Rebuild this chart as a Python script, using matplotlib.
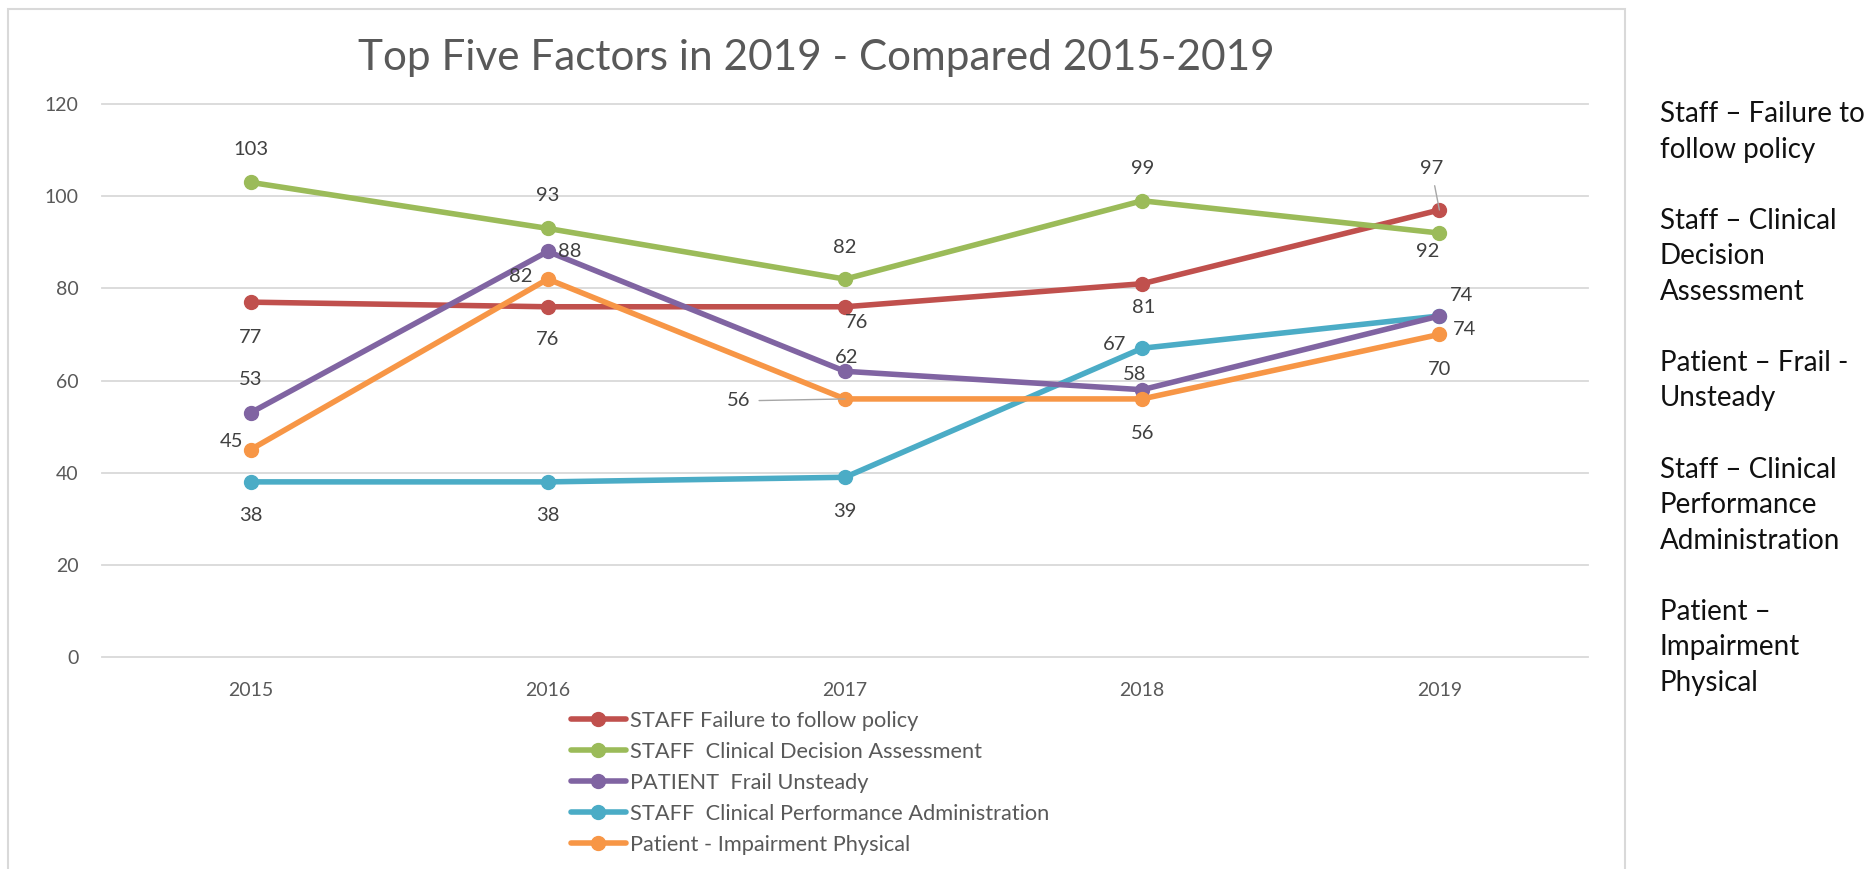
import matplotlib
matplotlib.use("Agg")
import matplotlib.pyplot as plt
from matplotlib.patches import Rectangle

plt.rcParams['font.family'] = ['Lato', 'DejaVu Sans']

years = [2015, 2016, 2017, 2018, 2019]
series_names = [
    "STAFF Failure to follow policy",
    "STAFF  Clinical Decision Assessment",
    "PATIENT  Frail Unsteady",
    "STAFF  Clinical Performance Administration",
    "Patient - Impairment Physical",
]
failure_policy = [77, 76, 76, 81, 97]
clinical_decision = [103, 93, 82, 99, 92]
frail_unsteady = [53, 88, 62, 58, 74]
clinical_performance = [38, 38, 39, 67, 74]
impairment_physical = [45, 82, 56, 56, 70]
series_values = [failure_policy, clinical_decision, frail_unsteady,
                 clinical_performance, impairment_physical]

side_notes = [
    "Staff \u2013 Failure to\nfollow policy",
    "Staff \u2013 Clinical\nDecision\nAssessment",
    "Patient \u2013 Frail -\nUnsteady",
    "Staff \u2013 Clinical\nPerformance\nAdministration",
    "Patient \u2013\nImpairment\nPhysical",
]

colors = ['#C0504D', '#9BBB59', '#8064A2', '#4BACC6', '#F79646']

# label offsets in pixels (dx, dy) for each point, per series
label_offsets = [
    [(0, -35), (0, -33), (12, -16), (1, -24), (-8, 41)],
    [(0, 33), (0, 33), (0, 32), (0, 32), (-12, -18)],
    [(0, 33), (22, 0), (2, 14), (-8, 15), (25, -14)],
    [(0, -34), (0, -34), (0, -34), (-28, 4), (22, 20)],
    [(-19, 8), (-27, 3), (-106, -2), (0, -35), (0, -35)],
]
leaders = {(0, 4), (4, 2)}

W, H = 1873, 869
fig = plt.figure(figsize=(W / 100, H / 100), dpi=100)
fig.patch.set_facecolor('white')

# chart frame
fig.patches.append(Rectangle((8 / W, -0.05), (1625 - 8) / W, 1.05 - 9 / H,
                             transform=fig.transFigure, fill=False,
                             edgecolor='#D9D9D9', lw=1.5))

ax = fig.add_axes([102 / W, 1 - 657 / H, (1588 - 102) / W, (657 - 104) / H])

handles = []
for i, vals in enumerate(series_values):
    h, = ax.plot(years, vals, color=colors[i], lw=4.0, marker='o',
                 markersize=10, solid_capstyle='round', label=series_names[i],
                 zorder=3 + i * 0.1 if i != 2 else 3.35)
    handles.append(h)

for i, vals in enumerate(series_values):
    for j, v in enumerate(vals):
        dx, dy = label_offsets[i][j]
        kw = {}
        if (i, j) in leaders:
            kw['arrowprops'] = dict(arrowstyle='-', color='#A6A6A6', lw=1.0,
                                    shrinkA=4, shrinkB=0)
        ax.annotate(str(v), (years[j], v), xytext=(dx, dy),
                    textcoords='offset pixels', ha='center', va='center',
                    fontsize=14.5, color='#404040', zorder=6, **kw)

ax.set_xlim(2014.5, 2019.5)
ax.set_ylim(0, 120)
ax.set_yticks(range(0, 121, 20))
ax.set_xticks(years)
ax.grid(axis='y', color='#D9D9D9', lw=1.3)
ax.set_axisbelow(True)
for s in ax.spines.values():
    s.set_visible(False)
ax.tick_params(length=0, labelsize=14, labelcolor='#595959')
ax.tick_params(axis='y', pad=17)
ax.tick_params(axis='x', pad=18)
for gl in ax.get_ygridlines():
    gl.set_clip_on(False)

fig.text(816 / W, 1 - 58 / H, "Top Five Factors in 2019 - Compared 2015-2019",
         ha='center', va='center', fontsize=30.4, color='#595959')

fig.legend(handles=handles, loc='upper left',
           bbox_to_anchor=(571 / W, 1 - 711 / H), frameon=False,
           fontsize=15.7, labelcolor='#595959', handlelength=2.5,
           handletextpad=0.2, labelspacing=0.5, borderpad=0,
           borderaxespad=0)

fig.text(1660 / W, 1 - 101 / H, "\n\n".join(side_notes), ha='left', va='top',
         fontsize=20, color='#111111', linespacing=1.455)

fig.savefig('out.png', dpi=100, facecolor='white')
